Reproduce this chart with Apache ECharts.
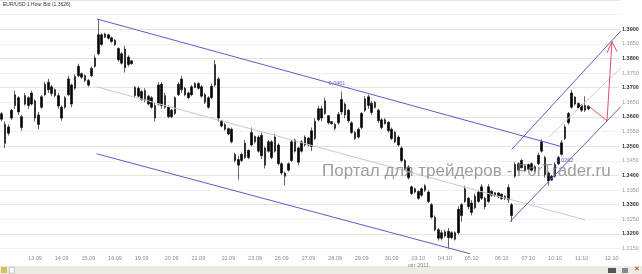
<!DOCTYPE html>
<html><head><meta charset="utf-8">
<script src="https://cdn.jsdelivr.net/npm/echarts@6/dist/echarts.min.js"></script>
<style>html,body{margin:0;padding:0;background:#fff}#c{width:642px;height:274px}</style>
</head><body><div id="c"></div>
<script>
// hourly-ish price slots (EUR/USD 1 Hour Bid)
const openP = [
1.3611,1.3574,1.3544,1.3596,1.3639,1.3666,1.3601,1.3644,1.3666,1.3644,
1.3655,1.3607,1.3633,1.3676,1.3693,1.3703,1.3693,1.3673,1.3633,1.3633,
1.3676,1.3709,1.3698,1.3741,1.3748,1.3741,1.3725,1.3741,1.3773,1.3816,
1.3848,1.3873,1.3881,1.3871,1.3862,1.3834,1.3784,1.3832,1.3779,1.3792,
1.3701,1.3671,1.3687,1.3658,1.3671,1.3666,1.3639,1.3644,1.3712,1.3633,
1.3633,1.3601,1.3612,1.3676,1.3730,1.3698,1.3666,1.3676,1.3701,1.3714,
1.3703,1.3676,1.3666,1.3666,1.3709,1.3730,1.3587,1.3574,1.3560,1.3558,
1.3472,1.3454,1.3451,1.3461,1.3486,1.3504,1.3533,1.3531,1.3467,1.3494,
1.3483,1.3515,1.3483,1.3504,1.3440,1.3408,1.3418,1.3451,1.3521,1.3494,
1.3483,1.3504,1.3528,1.3553,1.3526,1.3590,1.3628,1.3612,1.3604,1.3584,
1.3574,1.3580,1.3617,1.3644,1.3623,1.3580,1.3547,1.3531,1.3564,1.3623,
1.3669,1.3647,1.3633,1.3623,1.3590,1.3577,1.3582,1.3558,1.3547,1.3531,
1.3494,1.3451,1.3429,1.3361,1.3343,1.3345,1.3332,1.3365,1.3343,1.3300,
1.3257,1.3214,1.3185,1.3207,1.3187,1.3204,1.3182,1.3204,1.3263,1.3311,
1.3322,1.3306,1.3289,1.3311,1.3322,1.3322,1.3311,1.3346,1.3341,1.3327,
1.3336,1.3329,1.3316,1.3300,1.3397,1.3440,1.3426,1.3432,1.3421,1.3440,
1.3416,1.3440,1.3483,1.3461,1.3408,1.3384,1.3397,1.3440,1.3472,1.3526,
1.3580,1.3633,1.3668,1.3646,1.3639,1.3623,1.3637];
const closeP = [
1.3592,1.3510,1.3566,1.3623,1.3676,1.3617,1.3564,1.3673,1.3639,1.3682,
1.3596,1.3574,1.3669,1.3712,1.3719,1.3680,1.3673,1.3637,1.3596,1.3666,
1.3730,1.3644,1.3738,1.3773,1.3736,1.3725,1.3709,1.3766,1.3802,1.3881,
1.3881,1.3884,1.3869,1.3858,1.3847,1.3795,1.3816,1.3768,1.3805,1.3782,
1.3673,1.3698,1.3660,1.3690,1.3644,1.3633,1.3596,1.3709,1.3639,1.3673,
1.3601,1.3623,1.3666,1.3712,1.3693,1.3676,1.3682,1.3703,1.3714,1.3698,
1.3671,1.3650,1.3633,1.3705,1.3779,1.3596,1.3569,1.3558,1.3542,1.3515,
1.3451,1.3435,1.3472,1.3510,1.3461,1.3547,1.3515,1.3483,1.3537,1.3435,
1.3515,1.3461,1.3531,1.3440,1.3408,1.3397,1.3440,1.3515,1.3483,1.3445,
1.3515,1.3531,1.3504,1.3499,1.3585,1.3628,1.3596,1.3655,1.3580,1.3577,
1.3561,1.3609,1.3660,1.3607,1.3587,1.3547,1.3526,1.3558,1.3612,1.3662,
1.3639,1.3615,1.3650,1.3587,1.3564,1.3590,1.3553,1.3526,1.3515,1.3504,
1.3451,1.3424,1.3392,1.3338,1.3354,1.3322,1.3354,1.3349,1.3311,1.3257,
1.3214,1.3185,1.3204,1.3193,1.3209,1.3187,1.3204,1.3284,1.3300,1.3354,
1.3293,1.3273,1.3329,1.3343,1.3361,1.3293,1.3361,1.3332,1.3330,1.3340,
1.3321,1.3320,1.3359,1.3263,1.3437,1.3418,1.3451,1.3416,1.3437,1.3418,
1.3430,1.3469,1.3515,1.3402,1.3381,1.3397,1.3437,1.3461,1.3512,1.3566,
1.3612,1.3682,1.3644,1.3631,1.3623,1.3639,1.3628];
const lowP = [
1.3585,1.3494,1.3537,1.3590,1.3628,1.3607,1.3553,1.3639,1.3628,1.3639,
1.3585,1.3558,1.3628,1.3671,1.3682,1.3671,1.3666,1.3628,1.3587,1.3628,
1.3671,1.3633,1.3693,1.3736,1.3730,1.3719,1.3703,1.3736,1.3768,1.3811,
1.3843,1.3870,1.3865,1.3854,1.3843,1.3789,1.3779,1.3752,1.3773,1.3779,
1.3666,1.3666,1.3655,1.3650,1.3639,1.3628,1.3585,1.3639,1.3628,1.3628,
1.3596,1.3596,1.3607,1.3671,1.3682,1.3671,1.3660,1.3671,1.3698,1.3693,
1.3666,1.3644,1.3628,1.3660,1.3703,1.3585,1.3564,1.3553,1.3537,1.3510,
1.3445,1.3386,1.3445,1.3456,1.3456,1.3499,1.3510,1.3478,1.3456,1.3424,
1.3478,1.3456,1.3478,1.3435,1.3402,1.3365,1.3413,1.3445,1.3478,1.3435,
1.3478,1.3499,1.3499,1.3483,1.3521,1.3585,1.3585,1.3607,1.3574,1.3574,
1.3553,1.3574,1.3607,1.3596,1.3580,1.3542,1.3521,1.3526,1.3558,1.3617,
1.3628,1.3607,1.3628,1.3580,1.3558,1.3574,1.3547,1.3521,1.3510,1.3499,
1.3445,1.3418,1.3386,1.3332,1.3338,1.3316,1.3327,1.3343,1.3306,1.3252,
1.3209,1.3177,1.3177,1.3187,1.3150,1.3182,1.3177,1.3198,1.3241,1.3306,
1.3284,1.3263,1.3284,1.3306,1.3316,1.3284,1.3306,1.3327,1.3327,1.3322,
1.3316,1.3316,1.3306,1.3241,1.3392,1.3413,1.3424,1.3413,1.3418,1.3413,
1.3413,1.3435,1.3478,1.3392,1.3365,1.3381,1.3392,1.3435,1.3467,1.3521,
1.3574,1.3628,1.3639,1.3628,1.3617,1.3617,1.3623];
const highP = [
1.3617,1.3585,1.3574,1.3628,1.3690,1.3671,1.3607,1.3682,1.3671,1.3690,
1.3660,1.3617,1.3676,1.3719,1.3730,1.3709,1.3698,1.3682,1.3639,1.3671,
1.3741,1.3714,1.3746,1.3782,1.3752,1.3746,1.3730,1.3773,1.3811,1.3934,
1.3886,1.3888,1.3884,1.3875,1.3867,1.3838,1.3822,1.3843,1.3811,1.3795,
1.3705,1.3705,1.3693,1.3698,1.3676,1.3671,1.3650,1.3719,1.3719,1.3682,
1.3639,1.3628,1.3671,1.3719,1.3741,1.3703,1.3687,1.3709,1.3719,1.3719,
1.3709,1.3682,1.3671,1.3714,1.3795,1.3736,1.3590,1.3580,1.3564,1.3564,
1.3478,1.3467,1.3478,1.3521,1.3488,1.3564,1.3537,1.3537,1.3547,1.3499,
1.3521,1.3521,1.3542,1.3510,1.3445,1.3413,1.3445,1.3521,1.3526,1.3499,
1.3521,1.3537,1.3531,1.3564,1.3596,1.3639,1.3639,1.3666,1.3607,1.3585,
1.3580,1.3617,1.3687,1.3650,1.3628,1.3585,1.3553,1.3564,1.3617,1.3671,
1.3676,1.3655,1.3655,1.3628,1.3596,1.3596,1.3585,1.3564,1.3553,1.3537,
1.3499,1.3456,1.3435,1.3365,1.3359,1.3349,1.3359,1.3370,1.3349,1.3306,
1.3263,1.3220,1.3214,1.3214,1.3220,1.3209,1.3209,1.3295,1.3306,1.3365,
1.3327,1.3316,1.3338,1.3349,1.3370,1.3327,1.3370,1.3349,1.3343,1.3343,
1.3338,1.3332,1.3370,1.3306,1.3445,1.3445,1.3456,1.3435,1.3440,1.3445,
1.3435,1.3478,1.3523,1.3467,1.3413,1.3402,1.3445,1.3467,1.3521,1.3574,
1.3617,1.3693,1.3671,1.3650,1.3644,1.3671,1.3639];

const slotCount = 186;
const tickIdx  = [10,18,26,34,42,51,59,68,76,84,92,100,108,117,125,133,141,150,158,166,174,183];
const tickText = ['13.09','14.09','15.09','16.09','19.09','20.09','21.09','22.09','23.09','26.09','27.09',
                  '28.09','29.09','30.09','03.10\nокт 2011','04.10','05.10','06.10','07.10','10.10','11.10','12.10'];

// drawn channel / annotation lines (slot index, price)
const chanUpperDown = [[28.6,1.3935],[167.5,1.3500]];
const chanLowerDown = [[28.5,1.3474],[140.5,1.3132]];
const chanMidDown   = [[28.5,1.3703],[175.0,1.3248]];
const chanLowerUp   = [[152.5,1.3242],[185.8,1.3636]];
const chanUpperUp   = [[153.0,1.3489],[185.8,1.3895]];
const chanMidUp     = [[164.0,1.3530],[185.8,1.3768]];
const redPath       = [[175.9,1.3639],[181.6,1.3587],[183.1,1.3858]];
const redHeadL      = [[181.6,1.3819],[183.1,1.3858]];
const redHeadR      = [[184.6,1.3823],[183.1,1.3858]];
const measureLabels = [{text:'0.0461', at:[100.6,1.3716]},{text:'0.0262', at:[169.0,1.3452]}];

const slots = Array.from({length: slotCount}, (_, i) => String(i));
const labelAt = {};
tickIdx.forEach((k, j) => { labelAt[k] = tickText[j]; });
const candles = openP.map((o, i) => [o, closeP[i], lowP[i], highP[i]]);

const chart = echarts.init(document.getElementById('c'));
const lineS = (data, color, w) => ({
  type:'line', xAxisIndex:1, yAxisIndex:0, data, symbol:'none', clip:false, silent:true,
  lineStyle:{color, width:w||1}, z:3
});
chart.setOption({
  animation:false,
  backgroundColor:'#ffffff',
  grid:{left:0, right:22, top:-15, height:263.5},
  xAxis:[
    {type:'category', data:slots, boundaryGap:true,
     axisLine:{show:false}, axisTick:{show:false}, splitLine:{show:false},
     axisLabel:{interval:(i) => labelAt[i] !== undefined, formatter:(v, i) => labelAt[i] || '',
       fontSize:5.5, lineHeight:7, color:'#8a8a8a', margin:6, fontFamily:'Liberation Sans'}},
    {type:'value', min:-0.5, max:slotCount-0.5, show:false}
  ],
  yAxis:{type:'value', position:'right', min:1.315, max:1.40, interval:0.005,
    axisLine:{show:false}, axisTick:{show:false},
    splitLine:{lineStyle:{color:['#f3f3ec','#e6e6da'], width:1}},
    axisLabel:{margin:2, fontFamily:'Liberation Sans', fontSize:5.5,
      formatter:(v) => {
        if (v > 1.3925) return '';
        const major = Math.round(v*1000) % 10 === 0;
        return (major ? '{a|' : '{b|') + v.toFixed(4) + '}';
      },
      rich:{a:{color:'#333', fontWeight:'bold', fontSize:5.5, fontFamily:'Liberation Sans'},
            b:{color:'#999', fontSize:5.5, fontFamily:'Liberation Sans'}}}},
  graphic:[
    {type:'text', left:3, top:2, style:{text:'EUR/USD 1 Hour Bid (1.3626)', fill:'#333', font:'5px "Liberation Sans"'}},
    {type:'text', left:322, top:163, z:10, style:{text:'Портал для трейдеров - ForTrader.ru',
      fill:'rgba(125,125,125,0.75)', font:'17px "Liberation Sans"'}},
    {type:'rect', left:0, top:266, shape:{width:642, height:8}, style:{fill:'#ecebe5'}},
    {type:'rect', left:1, top:267, shape:{width:6, height:6}, style:{fill:'#d8c060'}},
    {type:'rect', left:9, top:267, shape:{width:5, height:6}, style:{fill:'#fff', stroke:'#888', lineWidth:0.5}},
    {type:'rect', left:608, top:268, shape:{width:8, height:5}, style:{fill:'#555'}},
    {type:'rect', left:622, top:268, shape:{width:6, height:5}, style:{fill:'#888'}},
    {type:'text', left:634, top:266, style:{text:'✕', fill:'#cc2222', font:'bold 7px "DejaVu Sans"'}}
  ],
  series:[
    {type:'candlestick', xAxisIndex:0, yAxisIndex:0, data:candles, barWidth:2, silent:true,
     itemStyle:{color:'#000', color0:'#000', borderColor:'#000', borderColor0:'#000', borderWidth:0.6}, z:2},
    lineS(chanMidDown, '#c9c9de'),
    lineS(chanMidUp, '#d9c9d6'),
    lineS(chanUpperDown, '#5c5cc8'),
    lineS(chanLowerDown, '#5c5cc8'),
    lineS(chanLowerUp, '#5c5cc8'),
    lineS(chanUpperUp, '#5c5cc8'),
    lineS(redPath, '#e0506c'),
    lineS(redHeadL, '#e0506c'),
    lineS(redHeadR, '#e0506c'),
    {type:'scatter', xAxisIndex:1, yAxisIndex:0, symbolSize:0, silent:true,
     data: measureLabels.map(m => ({value:m.at, name:m.text})),
     label:{show:true, formatter:(p) => p.name, position:'inside', color:'#3a3ad0', fontSize:5.5, fontFamily:'Liberation Sans'}}
  ]
});
</script></body></html>
